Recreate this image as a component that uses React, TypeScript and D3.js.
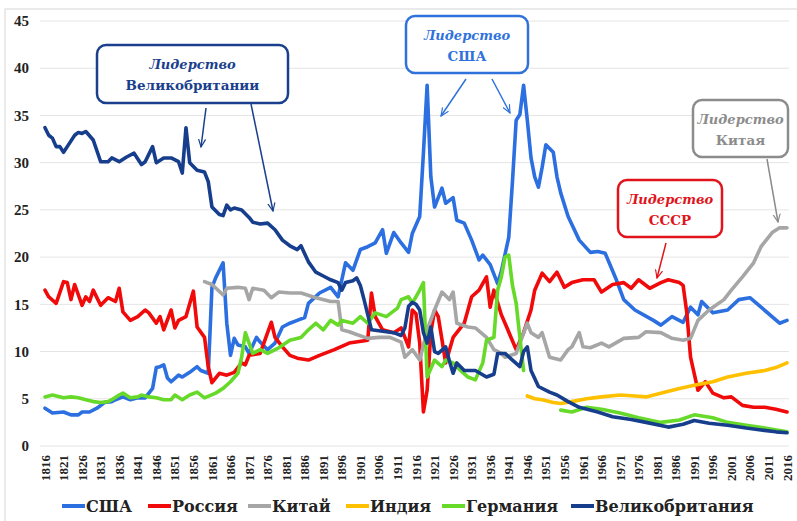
import * as d3 from 'd3';

type Pt = [number, number | null];

// Доля в мировом ВВП, % (оценка по рисунку)
const usa: Pt[] = [
  [1816, 4.0], [1818, 3.5], [1821, 3.6], [1823, 3.3], [1825, 3.3], [1826, 3.6], [1828, 3.6], [1830, 4.0],
  [1832, 4.6], [1834, 4.7], [1835, 4.9], [1837, 5.2], [1839, 4.9], [1841, 5.1], [1843, 5.1], [1844, 5.6],
  [1845, 6.1], [1846, 8.3], [1847, 8.4], [1848, 8.6], [1849, 7.2], [1850, 6.8], [1852, 7.5], [1853, 7.3],
  [1855, 7.8], [1857, 8.4], [1858, 8.0], [1860, 7.7], [1861, 16.8], [1862, 17.8], [1864, 19.4], [1865, 13.0],
  [1866, 9.6], [1867, 11.4], [1868, 10.7], [1870, 10.5], [1871, 9.8], [1873, 11.5], [1874, 11.0], [1876, 10.2],
  [1878, 10.9], [1880, 12.6], [1882, 13.0], [1884, 13.3], [1886, 13.6], [1887, 15.1], [1890, 16.2], [1893, 16.8],
  [1895, 15.8], [1897, 19.4], [1899, 18.6], [1901, 20.8], [1903, 21.1], [1905, 21.5], [1907, 22.9], [1908, 20.4],
  [1910, 22.6], [1912, 21.5], [1914, 20.5], [1915, 22.5], [1917, 24.3], [1918, 31.0], [1919, 38.2], [1920, 28.5],
  [1921, 25.3], [1923, 27.3], [1924, 25.7], [1926, 26.3], [1927, 23.9], [1929, 23.6], [1931, 21.8], [1933, 19.7],
  [1934, 20.2], [1936, 19.2], [1938, 17.2], [1939, 18.5], [1941, 22.1], [1942, 28.0], [1943, 34.5], [1944, 35.1],
  [1945, 38.2], [1946, 34.5], [1947, 30.5], [1948, 28.5], [1949, 27.4], [1950, 29.5], [1951, 31.9], [1952, 31.5],
  [1953, 31.1], [1954, 28.5], [1955, 26.8], [1957, 24.3], [1960, 21.8], [1963, 20.5], [1965, 20.6], [1967, 20.4],
  [1970, 17.6], [1972, 15.5], [1975, 14.4], [1980, 13.3], [1982, 12.8], [1985, 13.7], [1988, 13.1], [1990, 14.7],
  [1992, 13.9], [1993, 15.3], [1996, 14.1], [2000, 14.4], [2003, 15.5], [2006, 15.7], [2009, 14.7], [2014, 13.0],
  [2016, 13.3],
];

const russia: Pt[] = [
  [1816, 16.5], [1817, 15.8], [1819, 15.1], [1821, 17.4], [1822, 17.3], [1823, 15.5], [1824, 17.1], [1826, 14.9],
  [1827, 15.8], [1828, 15.3], [1829, 16.5], [1831, 14.9], [1833, 15.7], [1835, 15.3], [1836, 16.7], [1837, 14.2],
  [1839, 13.3], [1841, 13.7], [1843, 14.4], [1844, 14.1], [1846, 13.0], [1847, 13.7], [1848, 12.3], [1850, 14.4],
  [1851, 12.5], [1852, 13.3], [1854, 13.7], [1856, 16.4], [1857, 12.6], [1859, 11.5], [1860, 8.4], [1861, 6.7],
  [1863, 7.7], [1865, 7.5], [1867, 7.8], [1869, 8.8], [1870, 8.6], [1871, 9.6], [1874, 9.8], [1876, 12.0],
  [1877, 13.1], [1878, 11.5], [1880, 10.5], [1882, 9.6], [1884, 9.3], [1887, 9.1], [1890, 9.6], [1894, 10.2],
  [1898, 10.9], [1903, 11.2], [1904, 16.2], [1905, 13.7], [1907, 12.3], [1910, 12.0], [1912, 12.5], [1914, 10.5],
  [1915, 14.4], [1916, 14.0], [1917, 10.9], [1918, 3.6], [1919, 5.9], [1920, 12.0], [1921, 14.4], [1922, 13.7],
  [1924, 8.8], [1926, 11.5], [1929, 13.0], [1931, 15.8], [1933, 16.5], [1935, 17.9], [1936, 14.7], [1937, 16.5],
  [1939, 13.9], [1940, 13.0], [1943, 10.2], [1945, 12.0], [1947, 14.4], [1948, 16.5], [1950, 18.3], [1952, 17.4],
  [1954, 18.4], [1956, 16.8], [1958, 17.3], [1961, 17.6], [1964, 17.6], [1966, 16.3], [1969, 17.1], [1972, 17.3],
  [1974, 16.7], [1976, 17.6], [1979, 16.7], [1982, 17.3], [1984, 17.6], [1987, 17.3], [1988, 17.0], [1989, 14.1],
  [1990, 9.4], [1992, 5.9], [1994, 6.8], [1996, 5.6], [1999, 5.1], [2001, 5.2], [2004, 4.3], [2007, 4.1],
  [2010, 4.1], [2013, 3.9], [2016, 3.6],
];

const china: Pt[] = [
  [1859, 17.4], [1861, 17.1], [1864, 16.0], [1865, 16.7], [1868, 16.8], [1870, 16.7], [1871, 15.5], [1872, 16.7],
  [1875, 16.5], [1877, 15.7], [1879, 16.3], [1882, 16.2], [1885, 16.2], [1889, 15.7], [1893, 15.3], [1895, 15.3],
  [1896, 12.3], [1898, 12.1], [1900, 11.8], [1903, 11.4], [1906, 11.5], [1909, 11.5], [1912, 11.0], [1913, 9.4],
  [1915, 10.2], [1917, 9.1], [1919, 12.3], [1921, 14.4], [1923, 16.3], [1925, 15.5], [1926, 16.3], [1927, 13.0],
  [1930, 12.6], [1932, 12.5], [1935, 11.5], [1937, 10.2], [1939, 9.8], [1940, 9.4], [1943, 9.8], [1946, 13.0],
  [1947, 12.0], [1949, 11.5], [1950, 12.0], [1952, 9.4], [1955, 9.1], [1957, 10.2], [1958, 10.5], [1960, 12.0],
  [1961, 10.5], [1963, 10.4], [1966, 10.9], [1968, 10.5], [1972, 11.4], [1976, 11.5], [1978, 12.1], [1982, 12.0],
  [1985, 11.4], [1988, 11.2], [1990, 11.4], [1992, 13.3], [1995, 14.4], [1999, 15.5], [2001, 16.5], [2004, 17.9],
  [2007, 19.4], [2009, 21.1], [2012, 22.6], [2014, 23.1], [2016, 23.1],
];

const india: Pt[] = [
  [1946, 5.3], [1948, 5.0], [1950, 4.9], [1953, 4.6], [1955, 4.5], [1958, 4.7], [1962, 5.0], [1966, 5.2],
  [1971, 5.4], [1975, 5.3], [1978, 5.2], [1983, 5.7], [1987, 6.1], [1992, 6.5], [1996, 6.8], [2000, 7.3],
  [2005, 7.7], [2010, 8.0], [2013, 8.3], [2016, 8.8],
];

const germany: Pt[] = [
  [1816, 5.2], [1818, 5.4], [1821, 5.1], [1823, 5.2], [1825, 5.1], [1827, 4.9], [1829, 4.7], [1831, 4.6],
  [1833, 4.7], [1834, 4.9], [1836, 5.4], [1837, 5.6], [1839, 5.1], [1841, 5.2], [1842, 5.4], [1844, 5.2],
  [1846, 5.1], [1848, 4.9], [1850, 4.9], [1851, 5.4], [1853, 4.9], [1855, 5.4], [1857, 5.7], [1859, 5.1],
  [1862, 5.6], [1864, 6.1], [1866, 6.8], [1868, 7.7], [1869, 9.4], [1870, 12.0], [1872, 9.8], [1874, 10.2],
  [1876, 9.8], [1879, 10.4], [1882, 11.2], [1885, 11.5], [1887, 12.3], [1889, 13.0], [1891, 12.3], [1893, 13.3],
  [1895, 12.8], [1896, 13.3], [1899, 13.0], [1901, 13.7], [1903, 13.0], [1905, 14.1], [1908, 13.7], [1911, 14.6],
  [1912, 15.5], [1914, 15.8], [1915, 15.1], [1917, 16.5], [1918, 17.3], [1919, 7.3], [1921, 9.1], [1923, 8.4],
  [1924, 9.1], [1926, 8.8], [1928, 8.0], [1930, 7.3], [1932, 7.0], [1934, 8.8], [1935, 11.2], [1937, 11.5],
  [1938, 16.5], [1939, 17.9], [1940, 20.0], [1941, 20.2], [1942, 17.0], [1943, 15.1], [1944, 11.5], [1945, 8.0],
  [1950, null],
  [1955, 3.8], [1958, 3.6], [1962, 4.1], [1966, 3.9], [1971, 3.5], [1976, 3.0], [1982, 2.5], [1987, 2.75],
  [1991, 3.3], [1996, 3.0], [2000, 2.5], [2005, 2.2], [2010, 1.9], [2016, 1.5],
];

const uk: Pt[] = [
  [1816, 33.7], [1817, 32.9], [1818, 32.6], [1819, 31.7], [1820, 31.7], [1821, 31.1], [1822, 31.7], [1824, 32.9],
  [1825, 33.2], [1826, 33.1], [1827, 33.3], [1829, 32.4], [1831, 30.1], [1833, 30.1], [1834, 30.5], [1836, 30.1],
  [1838, 30.6], [1840, 31.0], [1842, 29.8], [1843, 30.1], [1845, 31.7], [1846, 30.0], [1848, 30.5], [1850, 30.5],
  [1852, 30.1], [1853, 28.9], [1854, 33.7], [1855, 30.0], [1857, 29.2], [1859, 29.0], [1860, 28.0], [1861, 25.3],
  [1863, 24.5], [1864, 24.4], [1865, 25.5], [1866, 25.0], [1867, 25.2], [1869, 25.0], [1871, 24.2], [1872, 23.7],
  [1874, 23.5], [1876, 23.6], [1878, 22.9], [1880, 21.8], [1882, 21.2], [1884, 20.8], [1885, 21.2], [1887, 19.5],
  [1889, 18.4], [1891, 18.0], [1893, 17.6], [1895, 17.3], [1896, 16.5], [1897, 17.3], [1899, 17.5], [1900, 17.8],
  [1901, 17.0], [1902, 15.5], [1904, 12.3], [1906, 12.2], [1908, 12.1], [1910, 12.0], [1912, 11.7], [1913, 12.5],
  [1914, 14.8], [1915, 15.2], [1916, 15.0], [1917, 14.4], [1918, 12.0], [1919, 10.9], [1920, 12.6], [1921, 10.0],
  [1922, 9.8], [1924, 10.5], [1925, 9.0], [1926, 7.7], [1927, 8.8], [1929, 8.0], [1932, 8.0], [1935, 7.3],
  [1937, 7.6], [1938, 9.8], [1940, 9.8], [1942, 9.1], [1944, 8.4], [1945, 10.0], [1946, 10.5], [1947, 8.0],
  [1949, 6.3], [1952, 5.7], [1954, 5.4], [1957, 4.7], [1960, 4.1], [1965, 3.6], [1969, 3.1], [1974, 2.8],
  [1978, 2.5], [1984, 2.0], [1988, 2.3], [1991, 2.7], [1995, 2.4], [2000, 2.2], [2005, 1.9], [2009, 1.7],
  [2013, 1.5], [2016, 1.4],
];

const seriesNames = ['США', 'Россия', 'Китай', 'Индия', 'Германия', 'Великобритания'];
const seriesData = [usa, russia, china, india, germany, uk];
const colors = ['#2B6FE0', '#F00A0A', '#A6A6A6', '#FFC000', '#66D929', '#173E8C'];

const yTicks = [0, 5, 10, 15, 20, 25, 30, 35, 40, 45];
const xTicks = d3.range(1816, 2017, 5);

const W = 797;
const H = 521;
const serif = '"DejaVu Serif", serif';
const tickFont = '"Liberation Serif", serif';

const x = d3.scaleLinear().domain([1816, 2016]).range([45, 787]);
const y = d3.scaleLinear().domain([0, 45]).range([446, 21]);

const line = d3
  .line<Pt>()
  .defined((d) => d[1] !== null)
  .x((d) => x(d[0]))
  .y((d) => y(d[1] as number));

// callout boxes: [x, y, w, h, color, line1, line2, arrows]
const callouts = [
  { x: 97, y: 45, w: 191, h: 58, color: '#1A3F8C', l1: 'Лидерство', l2: 'Великобритании',
    arrows: [[206, 108, 201, 147], [251, 104, 273, 211]] },
  { x: 406, y: 16, w: 122, h: 57, color: '#2F72DB', l1: 'Лидерство', l2: 'США',
    arrows: [[466, 79, 441, 116], [492, 79, 510, 113]] },
  { x: 693, y: 100, w: 95, h: 57, color: '#8C8C8C', l1: 'Лидерство', l2: 'Китая',
    arrows: [[767, 159, 778, 222]] },
  { x: 618, y: 180, w: 104, h: 57, color: '#E0141A', l1: 'Лидерство', l2: 'СССР',
    arrows: [[666, 243, 657, 278]] },
];

const legendX = [62, 148, 248, 346, 442, 571];

export default function App() {
  return (
    <svg width={W} height={H} style={{ position: 'absolute', left: 0, top: 0, background: '#fff' }}>
      <defs>
        {callouts.map((c, i) => (
          <marker key={i} id={`ah${i}`} viewBox="0 0 10 10" refX="9" refY="5" markerWidth="9" markerHeight="9"
            orient="auto" markerUnits="userSpaceOnUse">
            <path d="M0,1 L9,5 L0,9" fill="none" stroke={c.color} strokeWidth={1.3} />
          </marker>
        ))}
      </defs>
      <rect x={5} y={9} width={W} height={H} fill="#fff" stroke="#D6D6D6" strokeWidth={1} />

      {yTicks.map((t) => (
        <g key={t}>
          <line x1={40} x2={789} y1={y(t)} y2={y(t)} stroke="#E4E4E4" strokeWidth={1} />
          <text x={29} y={y(t)} dy="0.35em" textAnchor="end" fontFamily={tickFont} fontWeight="bold"
            fontSize={15} fill="#222">{t}</text>
        </g>
      ))}

      {xTicks.map((t) => (
        <text key={t} transform={`translate(${x(t)},455) rotate(-90)`} dy="0.35em" textAnchor="end"
          fontFamily={tickFont} fontWeight="bold" fontSize={13} fill="#222">{t}</text>
      ))}

      {seriesData.map((s, i) => (
        <path key={i} d={line(s) ?? ''} fill="none" stroke={colors[i]} strokeWidth={3.6}
          strokeLinejoin="round" strokeLinecap="round" />
      ))}

      {callouts.map((c, i) => (
        <g key={i}>
          {c.arrows.map((a, j) => (
            <line key={j} x1={a[0]} y1={a[1]} x2={a[2]} y2={a[3]} stroke={c.color} strokeWidth={1.5}
              markerEnd={`url(#ah${i})`} />
          ))}
          <rect x={c.x} y={c.y} width={c.w} height={c.h} rx={9} fill="#fff" stroke={c.color} strokeWidth={2.5} />
          <text x={c.x + c.w / 2} y={c.y + 24} textAnchor="middle" fontFamily={serif} fontStyle="italic"
            fontWeight="bold" fontSize={13} fill={c.color}>{c.l1}</text>
          <text x={c.x + c.w / 2} y={c.y + 45} textAnchor="middle" fontFamily={serif} fontWeight="bold"
            fontSize={13.5} fill={c.color}>{c.l2}</text>
        </g>
      ))}

      {seriesNames.map((n, i) => (
        <g key={n} transform={`translate(${legendX[i]},506)`}>
          <line x1={0} x2={23} y1={0} y2={0} stroke={colors[i]} strokeWidth={4} />
          <text x={24} y={0} dy="0.35em" fontFamily={serif} fontWeight="bold" fontSize={16} fill="#222">{n}</text>
        </g>
      ))}
    </svg>
  );
}
